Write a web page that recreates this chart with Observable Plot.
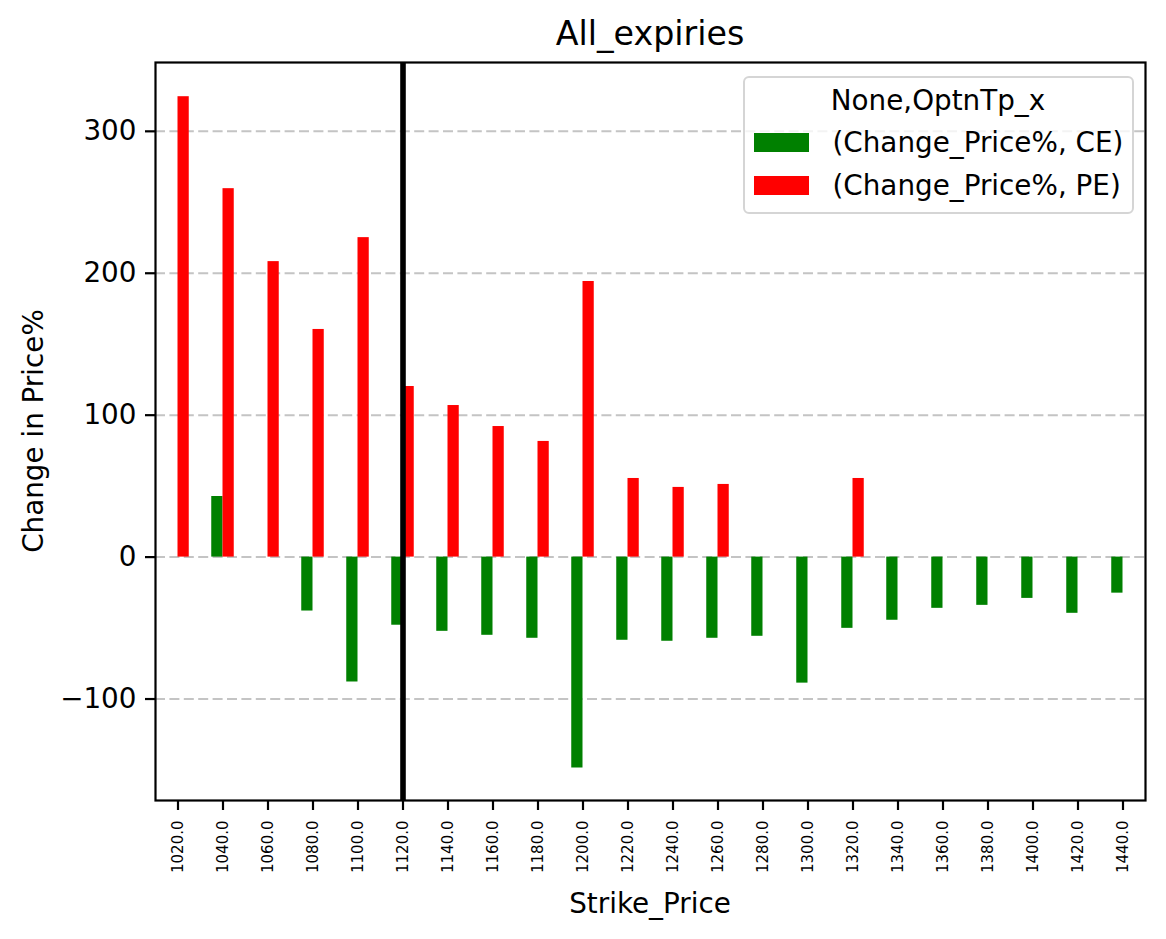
<!DOCTYPE html>
<html><head><meta charset="utf-8">
<script src="https://cdn.jsdelivr.net/npm/d3@7"></script>
<script src="https://cdn.jsdelivr.net/npm/@observablehq/plot@0.6"></script>
<style>
body{margin:0;background:#fff;}
#fig{position:relative;width:1166px;height:939px;font-family:"DejaVu Sans",sans-serif;color:#000;background:#fff;overflow:hidden;}
#fig svg{position:absolute;left:0;top:0;}
.t{position:absolute;line-height:1;white-space:nowrap;}
#legend{position:absolute;left:743px;top:76px;width:387px;height:134px;border:2px solid #d5d5d5;border-radius:6px;background:rgba(255,255,255,0.8);}
.sw{position:absolute;width:55px;height:19px;}
</style></head><body><div id="fig"></div>
<script>
// ---- data ----
const strikes = [1020,1040,1060,1080,1100,1120,1140,1160,1180,1200,1220,1240,1260,1280,1300,1320,1340,1360,1380,1400,1420,1440];
const ceChange = [null,42.7,null,-38,-88,-48,-52.3,-55.1,-57.2,-148.6,-58.6,-59.3,-57.2,-55.8,-88.8,-50.2,-44.5,-36.1,-34,-29.1,-39.6,-25.4];
const peChange = [324.4,259.6,208.2,160.4,225.1,120.2,106.8,92,81.5,194.2,55.4,49.1,51.2,null,null,55.4,null,null,null,null,null,null];
const seriesTypes = ["CE","PE"];
const seriesLabels = ["(Change_Price%, CE)","(Change_Price%, PE)"];
const seriesColors = ["#008000","#ff0000"];
const yTicks = [-100,0,100,200,300];
const markerStrike = 1120;
const titleText = "All_expiries";
const xLabel = "Strike_Price";
const yLabel = "Change in Price%";
const legendTitle = "None,OptnTp_x";

// ---- table ----
const rows = [];
strikes.forEach((s,i)=>{
  if (ceChange[i] != null) rows.push({strike:s, type:"CE", value:ceChange[i]});
  if (peChange[i] != null) rows.push({strike:s, type:"PE", value:peChange[i]});
});
const barWidth = 5; // each bar is a quarter of the 20-point strike step

const minus = d => d < 0 ? "\u2212" + Math.abs(d) : String(d);

const chart = Plot.plot({
  width:1166, height:939,
  marginLeft:155, marginRight:21, marginTop:62, marginBottom:139,
  style:{fontFamily:"DejaVu Sans", background:"transparent", color:"#000", overflow:"visible"},
  x:{domain:[1010,1450]},
  y:{domain:[-171.5,348.5]},
  color:{domain:seriesTypes, range:seriesColors},
  marks:[
    Plot.ruleY(yTicks, {y:d=>d, stroke:"#c4c4c4", strokeWidth:2, strokeDasharray:"10,4.4"}),
    Plot.rectY(rows, {
      x1: d => d.type === "CE" ? d.strike - barWidth : d.strike,
      x2: d => d.type === "CE" ? d.strike : d.strike + barWidth,
      y1: 0, y2: "value", fill: "type"
    }),
    Plot.ruleX([markerStrike], {x:d=>d, stroke:"#000", strokeWidth:5.6}),
    Plot.axisX(strikes, {tickSize:10, tickPadding:10, tickRotate:-90, fontSize:15, tickFormat:d=>d.toFixed(1), label:null, strokeWidth:2.2}),
    Plot.axisY(yTicks, {tickSize:10, tickPadding:9, fontSize:27.8, tickFormat:minus, label:null, strokeWidth:2.2}),
    Plot.frame({stroke:"#000", strokeWidth:2.2})
  ]
});
const fig = document.getElementById("fig");
fig.appendChild(chart);

function addText(txt, css){
  const d = document.createElement("div");
  d.className = "t"; d.textContent = txt;
  Object.assign(d.style, css);
  fig.appendChild(d);
  return d;
}
// title
addText(titleText, {left:"650px", top:"17px", fontSize:"33.3px", transform:"translateX(-50%)"});
// x label
addText(xLabel, {left:"650px", top:"889.5px", fontSize:"27.8px", transform:"translateX(-50%)"});
// y label (rotated)
addText(yLabel, {left:"33.5px", top:"431px", fontSize:"27.8px", transform:"translate(-50%,-50%) rotate(-90deg)"});

// legend
const lg = document.createElement("div"); lg.id = "legend"; fig.appendChild(lg);
addText(legendTitle, {left:"938px", top:"86.5px", fontSize:"27.8px", transform:"translateX(-50%)"});
const swTops = [133, 176];
const txtTops = [129, 172];
seriesTypes.forEach((t,i)=>{
  const s = document.createElement("div"); s.className="sw";
  Object.assign(s.style,{left:"754px", top:swTops[i]+"px", background:seriesColors[i]});
  fig.appendChild(s);
  addText(seriesLabels[i], {left:"832.5px", top:txtTops[i]+"px", fontSize:"27.8px"});
});
</script></body></html>
